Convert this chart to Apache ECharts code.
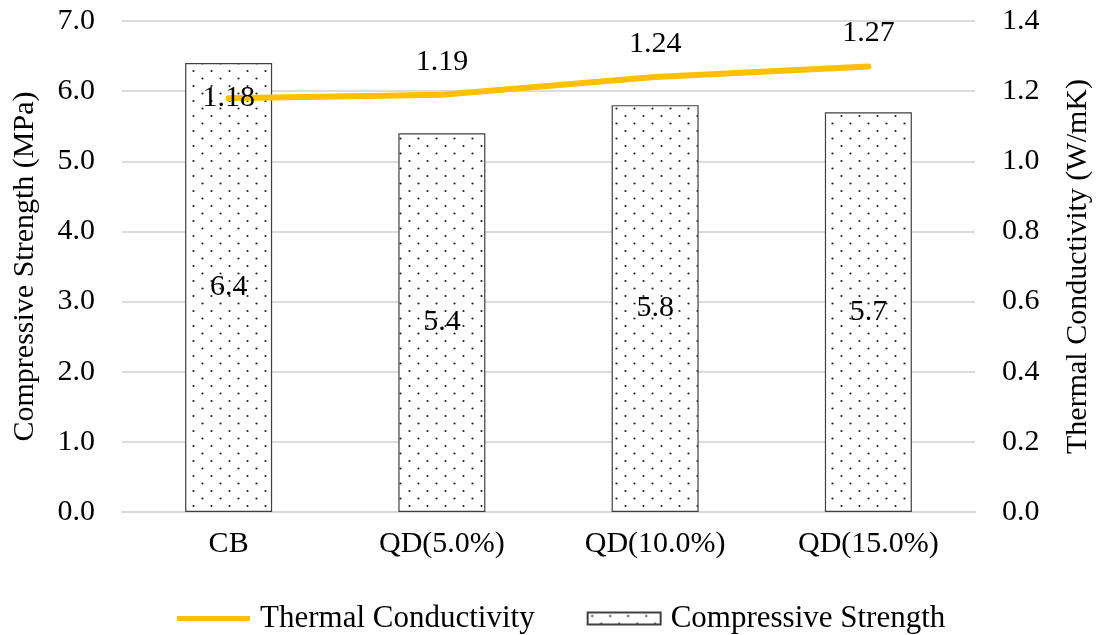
<!DOCTYPE html>
<html>
<head>
<meta charset="utf-8">
<script src="https://cdn.jsdelivr.net/npm/echarts@6/dist/echarts.min.js"></script>
<style>
html,body{margin:0;padding:0;background:#fff;}
#main{width:1101px;height:635px;}
</style>
</head>
<body>
<div id="main"></div>
<script>
const categories = ['CB', 'QD(5.0%)', 'QD(10.0%)', 'QD(15.0%)'];
const compressiveStrength = [6.4, 5.4, 5.8, 5.7];
const thermalConductivity = [1.18, 1.19, 1.24, 1.27];
const leftTicks = { min: 0, max: 7, interval: 1 };
const rightTicks = { min: 0, max: 1.4, interval: 0.2 };

const FONT = '"Liberation Serif", "Times New Roman", serif';

// dotted fill pattern
const pat = document.createElement('canvas');
pat.width = 18; pat.height = 15;
const pc = pat.getContext('2d');
pc.fillStyle = '#ffffff';
pc.fillRect(0, 0, 18, 15);
pc.fillStyle = '#222222';
pc.beginPath(); pc.arc(4.5, 3.5, 1.1, 0, Math.PI * 2); pc.fill();
pc.beginPath(); pc.arc(13.5, 11, 1.1, 0, Math.PI * 2); pc.fill();

const chart = echarts.init(document.getElementById('main'), null, { renderer: 'canvas' });

const lineData = thermalConductivity.map((v, i) => i === 0
  ? { value: v, label: { position: 'inside' } }
  : v);

chart.setOption({
  animation: false,
  backgroundColor: '#ffffff',
  textStyle: { fontFamily: FONT },
  grid: { left: 122, right: 124, top: 21, bottom: 123 },
  legend: {
    left: 172,
    top: 598,
    itemGap: 52,
    itemWidth: 73,
    itemHeight: 12,
    textStyle: { fontFamily: FONT, fontSize: 31, color: '#000', padding: [0, 0, 0, 5] },
    data: [
      { name: 'Thermal Conductivity', icon: 'path://M0,0 H146 V10 H0 Z' },
      { name: 'Compressive Strength', icon: 'rect' }
    ]
  },
  xAxis: {
    type: 'category',
    data: categories,
    axisLine: { show: true, lineStyle: { color: '#d9d9d9', width: 2 } },
    axisTick: { show: false },
    axisLabel: { fontFamily: FONT, fontSize: 30, color: '#000', margin: 17 }
  },
  yAxis: [
    {
      type: 'value',
      min: leftTicks.min, max: leftTicks.max, interval: leftTicks.interval,
      name: 'Compressive Strength (MPa)',
      nameLocation: 'middle',
      nameGap: 82,
      nameTextStyle: { fontFamily: FONT, fontSize: 30, color: '#000' },
      axisLine: { show: false },
      axisTick: { show: false },
      splitLine: { lineStyle: { color: '#dcdcdc', width: 2 } },
      axisLabel: { fontFamily: FONT, fontSize: 30, color: '#000', margin: 27,
        formatter: v => v.toFixed(1) }
    },
    {
      type: 'value',
      min: rightTicks.min, max: rightTicks.max, interval: rightTicks.interval,
      name: 'Thermal Conductivity (W/mK)',
      nameLocation: 'middle',
      nameGap: 88,
      nameTextStyle: { fontFamily: FONT, fontSize: 30, color: '#000' },
      axisLine: { show: false },
      axisTick: { show: false },
      splitLine: { show: false },
      axisLabel: { fontFamily: FONT, fontSize: 30, color: '#000', margin: 27,
        formatter: v => v.toFixed(1) }
    }
  ],
  series: [
    {
      name: 'Compressive Strength',
      type: 'bar',
      yAxisIndex: 0,
      data: compressiveStrength,
      barWidth: 87,
      itemStyle: {
        color: { image: pat, repeat: 'repeat' },
        borderColor: '#404040',
        borderWidth: 1.2
      },
      label: {
        show: true,
        position: 'inside',
        fontFamily: FONT, fontSize: 30, color: '#000',
        formatter: p => p.value.toFixed(1)
      },
      z: 2
    },
    {
      name: 'Thermal Conductivity',
      type: 'line',
      yAxisIndex: 1,
      data: lineData,
      symbol: 'circle',
      symbolSize: 0.01,
      showSymbol: true,
      lineStyle: { color: '#FFC000', width: 6, cap: 'round' },
      itemStyle: { color: '#FFC000' },
      label: {
        show: true,
        position: 'top',
        distance: 18,
        fontFamily: FONT, fontSize: 30, color: '#000',
        formatter: p => p.value.toFixed(2)
      },
      z: 3
    }
  ]
});
</script>
</body>
</html>
